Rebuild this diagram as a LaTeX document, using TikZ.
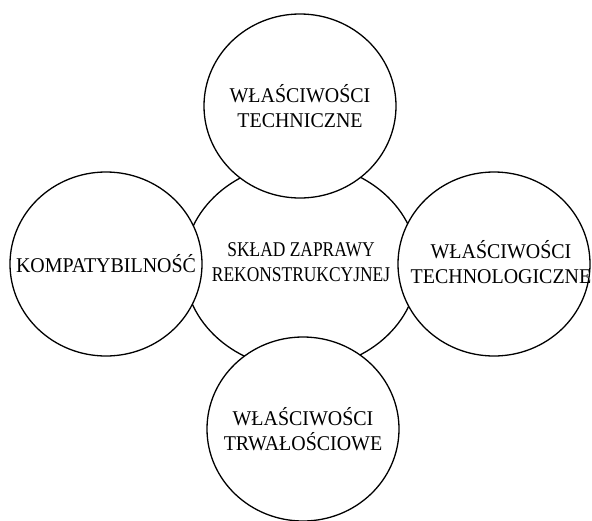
\documentclass[tikz,border=0pt]{standalone}
\usepackage{fontspec}
\setmainfont{Liberation Serif}
\newfontfamily\bubblefont[FakeStretch=0.95]{Liberation Serif}
\newfontfamily\corefont[FakeStretch=0.83]{Liberation Serif}
\usepackage{tikz}
\usetikzlibrary{shapes.geometric}

\begin{document}
\begin{tikzpicture}[
    x=1pt, y=-1pt,
    core/.style={ellipse, draw=black, line width=1.3pt, inner sep=0pt, minimum width=234pt, minimum height=206pt},
    bubble/.style={ellipse, draw=black, fill=white, line width=1.3pt, inner sep=0pt, minimum width=192pt, minimum height=184pt},
    caption/.style={inner sep=0pt, align=center, font=\bubblefont\fontsize{21}{25.5}\selectfont},
    corecaption/.style={inner sep=0pt, align=center, font=\corefont\fontsize{21}{25.5}\selectfont}
  ]
    \useasboundingbox (0, 0) rectangle (592, 520);
    % circles: the centre one first, the outer ones cover it
    \node[core] (sklad) at (301, 266) {};
    \node[bubble] (techniczne) at (300, 106) {};
    \node[bubble] (kompat) at (106, 264) {};
    \node[bubble] (technolog) at (494, 264) {};
    \node[bubble] (trwalosc) at (303, 429) {};
    % texts
    \node[corecaption] (sklad-txt) at (301, 262) {SKŁAD ZAPRAWY\\REKONSTRUKCYJNEJ};
    \node[caption] (techniczne-txt) at (techniczne) {WŁAŚCIWOŚCI\\TECHNICZNE};
    \node[caption] (kompat-txt) at (kompat) {KOMPATYBILNOŚĆ};
    \node[caption] (technolog-txt) at (501, 262) {WŁAŚCIWOŚCI\\TECHNOLOGICZNE};
    \node[caption] (trwalosc-txt) at (trwalosc) {WŁAŚCIWOŚCI\\TRWAŁOŚCIOWE};
  \end{tikzpicture}
\end{document}
